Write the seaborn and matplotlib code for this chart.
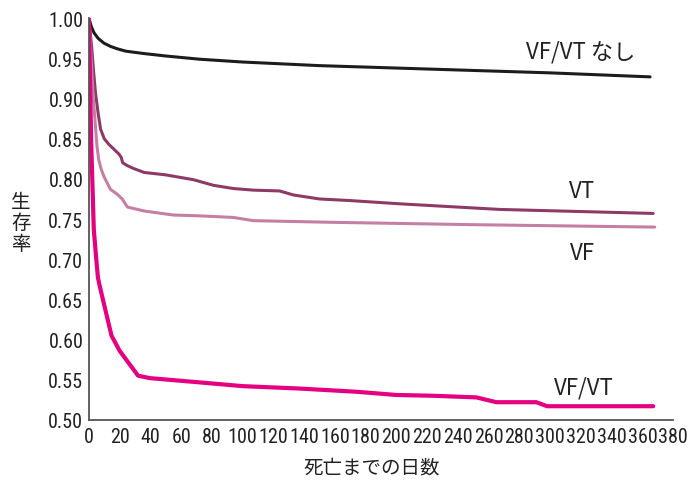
import matplotlib
matplotlib.use("Agg")
import matplotlib.pyplot as plt
import seaborn as sns
import pandas as pd
import numpy as np
from matplotlib import font_manager

sns.set_theme(style="white")
names = {f.name for f in font_manager.fontManager.ttflist}
prefs = ["Roboto Condensed", "PT Sans Narrow", "Archivo Narrow", "Fira Sans Condensed",
         "Asap Condensed", "Liberation Sans Narrow", "Encode Sans Condensed", "Roboto"]
narrow = next((p for p in prefs if p in names), "DejaVu Sans")
plt.rcParams['font.family'] = ['Noto Sans CJK JP', 'DejaVu Sans']

# ---- data ----
none_days = [0, 1.5, 3.3, 6, 9.8, 14, 18.4, 24, 36, 50, 72, 100, 150, 200, 250, 300, 365]
none_surv = [1.0, 0.990, 0.982, 0.975, 0.969, 0.965, 0.962, 0.959, 0.956, 0.953, 0.949, 0.9455,
             0.941, 0.938, 0.935, 0.932, 0.927]

vt_days = [0, 2, 3, 4.3, 6, 7.6, 10, 13, 19.5, 21, 22, 25, 29, 36, 50, 68, 81, 94, 107,
           124, 133, 150, 170, 202, 267, 367]
vt_surv = [1.0, 0.96, 0.935, 0.907, 0.882, 0.862, 0.850, 0.843, 0.831, 0.827, 0.820, 0.8165,
           0.813, 0.808, 0.805, 0.799, 0.792, 0.788, 0.786, 0.785, 0.780, 0.775, 0.773, 0.769,
           0.762, 0.757]

vf_days = [0, 1.5, 2.8, 4.3, 5.3, 6.4, 8, 9.8, 14, 18.4, 21.7, 25, 36, 55, 72, 94, 107, 157,
           250, 368]
vf_surv = [1.0, 0.95, 0.903, 0.865, 0.840, 0.824, 0.812, 0.803, 0.787, 0.781, 0.775, 0.765,
           0.760, 0.755, 0.754, 0.752, 0.748, 0.746, 0.743, 0.740]

vfvt_days = [0, 1.5, 3.2, 4.8, 5.9, 7, 14.7, 20, 32, 39.5, 70, 100, 137, 174, 200, 224, 252,
             265, 291, 298, 367]
vfvt_surv = [1.0, 0.845, 0.737, 0.700, 0.677, 0.667, 0.605, 0.586, 0.555, 0.552, 0.547, 0.542,
             0.539, 0.535, 0.531, 0.530, 0.528, 0.522, 0.522, 0.517, 0.517]

groups = ["VF/VT なし", "VT", "VF", "VF/VT"]
colors = ["#1c1c1c", "#8d3a66", "#c47fa3", "#e4007f"]
widths = [2.2, 2.2, 2.2, 3.0]

frames = []
for g, d, s in zip(groups, [none_days, vt_days, vf_days, vfvt_days],
                   [none_surv, vt_surv, vf_surv, vfvt_surv]):
    frames.append(pd.DataFrame({"day": d, "surv": s, "group": g}))
df = pd.concat(frames, ignore_index=True)

fig = plt.figure(figsize=(6.89, 4.81), dpi=100)
ax = fig.add_axes([0.129, 0.125, 0.848, 0.835])

for g, c, w in zip(groups, colors, widths):
    sns.lineplot(data=df[df.group == g], x="day", y="surv", color=c,
                 linewidth=w, ax=ax, legend=False, sort=False)

ax.set_xlim(0, 380)
ax.set_ylim(0.5, 1.0)
ax.set_xticks(np.arange(0, 381, 20))
ax.set_yticks(np.arange(0.5, 1.001, 0.05))
ax.set_yticklabels([f"{v:.2f}" for v in np.arange(0.5, 1.001, 0.05)])
for lab in ax.get_xticklabels() + ax.get_yticklabels():
    lab.set_family([narrow, 'DejaVu Sans'])
    lab.set_fontsize(14.5)
    lab.set_color("#222222")
ax.tick_params(direction="in", length=6, width=1.1, color="#444444", pad=4)
ax.tick_params(axis="x", pad=5)
for sp in ["top", "right"]:
    ax.spines[sp].set_visible(False)
for sp in ["left", "bottom"]:
    ax.spines[sp].set_color("#555555")
    ax.spines[sp].set_linewidth(1.3)

ax.set_xlabel("")
ax.set_ylabel("")
fig.text(0.540, 0.027, "死亡までの日数", ha="center", va="center", fontsize=14, color="#222222")
fig.text(0.030, 0.535, "生\n存\n率", ha="center", va="center", fontsize=14,
         color="#222222", linespacing=1.0)

ax.text(320, 0.959, "VF/VT なし", ha="center", va="center", fontsize=16, color="#222222")
ax.text(321, 0.786, "VT", ha="center", va="center", fontsize=16, color="#222222")
ax.text(321, 0.708, "VF", ha="center", va="center", fontsize=16, color="#222222")
ax.text(322, 0.541, "VF/VT", ha="center", va="center", fontsize=16, color="#222222")

fig.savefig("out.png", dpi=100)
